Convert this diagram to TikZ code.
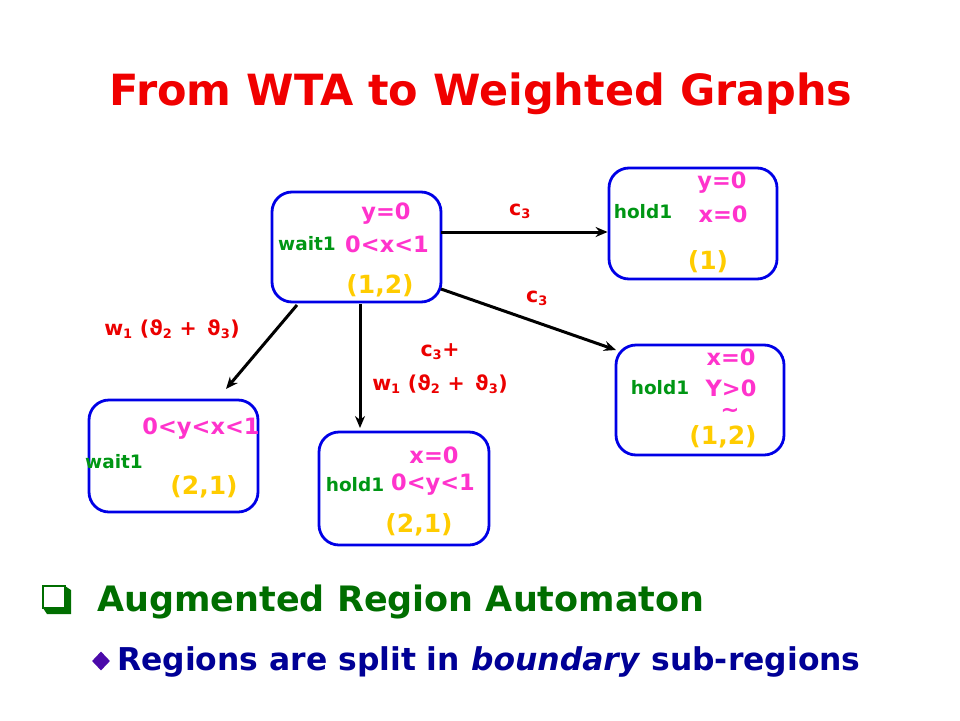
\documentclass[tikz,border=0pt]{standalone}
\usepackage{fontspec}
\setmainfont{DejaVu Sans}
\usetikzlibrary{arrows.meta,shapes.geometric}
\definecolor{ttl}{RGB}{240,0,0}
\definecolor{pnk}{RGB}{255,51,204}
\definecolor{gld}{RGB}{255,204,0}
\definecolor{grn}{RGB}{0,150,20}
\definecolor{bbl}{RGB}{0,0,230}
\definecolor{dgr}{RGB}{0,110,0}
\definecolor{nvy}{RGB}{0,0,150}
\definecolor{dmd}{RGB}{75,10,170}
\definecolor{lbl}{RGB}{235,0,0}
\tikzset{
  state/.style={draw=bbl,line width=2.8pt,rounded corners=20pt,inner sep=0pt},
  loc/.style={text=grn,font=\bfseries\fontsize{18.5}{20}\selectfont,inner sep=0pt},
  cnd/.style={text=pnk,font=\bfseries\fontsize{22.5}{25}\selectfont,inner sep=0pt},
  wgt/.style={text=gld,font=\bfseries\fontsize{25}{27}\selectfont,inner sep=0pt},
  elab/.style={text=lbl,font=\bfseries\fontsize{20.5}{24}\selectfont,inner sep=0pt,align=center},
  edge/.style={line width=3pt,-{Stealth[length=12pt,width=10pt]}}
}
\newcommand{\sbs}[1]{\textsubscript{\fontsize{13}{14}\selectfont #1}}
\begin{document}
\begin{tikzpicture}[x=1pt,y=-1pt]
\useasboundingbox (0,0) rectangle (960,720);
% title
\node[text=ttl,font=\bfseries\fontsize{43}{48}\selectfont,inner sep=0pt] (title) at (481,94) {From WTA to Weighted Graphs};
% states
\node[state,minimum width=169pt,minimum height=110pt] (s1) at (356.5,247) {};
\node[state,minimum width=168pt,minimum height=111pt] (s2) at (693,223.5) {};
\node[state,minimum width=168pt,minimum height=110pt] (s3) at (700,400) {};
\node[state,minimum width=169pt,minimum height=112pt] (s4) at (173.5,456) {};
\node[state,minimum width=170pt,minimum height=113pt] (s5) at (404,488.5) {};
% s1 texts
\node[cnd] (s1a) at (386,214) {y=0};
\node[loc] (s1l) at (307,244) {wait1};
\node[cnd] (s1b) at (387,244) {0<x<1};
\node[wgt] (s1w) at (380,286) {(1,2)};
% s2 texts
\node[cnd] (s2a) at (722,183) {y=0};
\node[loc] (s2l) at (643,212) {hold1};
\node[cnd] (s2b) at (723,214) {x=0};
\node[wgt] (s2w) at (708,262) {(1)};
% s3 texts
\node[cnd] (s3a) at (731,357) {x=0};
\node[loc] (s3l) at (660,388) {hold1};
\node[cnd] (s3b) at (731,388) {Y>0};
\node[cnd] (s3t) at (730,413) {\char"223C};
\node[wgt] (s3w) at (723,437) {(1,2)};
% s4 texts
\node[cnd] (s4a) at (201,429) {0<y<x<1};
\node[loc] (s4l) at (114,462) {wait1};
\node[wgt] (s4w) at (204,487) {(2,1)};
% s5 texts
\node[cnd] (s5a) at (434,455) {x=0};
\node[loc] (s5l) at (355,485) {hold1};
\node[cnd] (s5b) at (433,485) {0<y<1};
\node[wgt] (s5w) at (419,525) {(2,1)};
% edges
\coordinate (e1s) at (441,232);
\coordinate (e2s) at (441,289);
\coordinate (e3s) at (297,305);
\coordinate (e4s) at (360,304);
\draw[edge] (e1s) -- (s2.west |- e1s);
\draw[edge] (e2s) -- (616,350);
\draw[edge] (e3s) -- (226,389);
\draw[edge] (e4s) -- (360,428);
% edge labels
\node[elab] (l1) at (520,211) {c\sbs{3}};
\node[elab] (l2) at (537,298) {c\sbs{3}};
\node[elab] (l3) at (172,329) {w\sbs{1} (ϑ\sbs{2} + \,ϑ\sbs{3})};
\node[elab] (l4) at (440,352) {c\sbs{3}+};
\node[elab] (l5) at (440,384) {w\sbs{1} (ϑ\sbs{2} + \,ϑ\sbs{3})};
% bullets
\coordinate (cbA) at (43,586);
\coordinate (cbB) at (65,608);
\fill[dgr] (cbB |- cbA) -- ++(6,4) -- ++(0,24) -- ++(-24,0) -- ++(-4,-6) -- (cbB) -- cycle;
\draw[dgr,line width=2.5pt] (cbA) rectangle (cbB);
\node[text=dgr,font=\bfseries\fontsize{35}{40}\selectfont,inner sep=0pt,anchor=west] (b1) at (97,602) {Augmented Region Automaton};
\node[diamond,fill=dmd,minimum width=18pt,minimum height=19pt,inner sep=0pt] (dm) at (101,661) {};
\node[text=nvy,font=\bfseries\fontsize{31.4}{34}\selectfont,inner sep=0pt,anchor=west] (b2) at (117,662) {Regions are split in \textit{boundary} sub-regions};
\end{tikzpicture}
\end{document}
